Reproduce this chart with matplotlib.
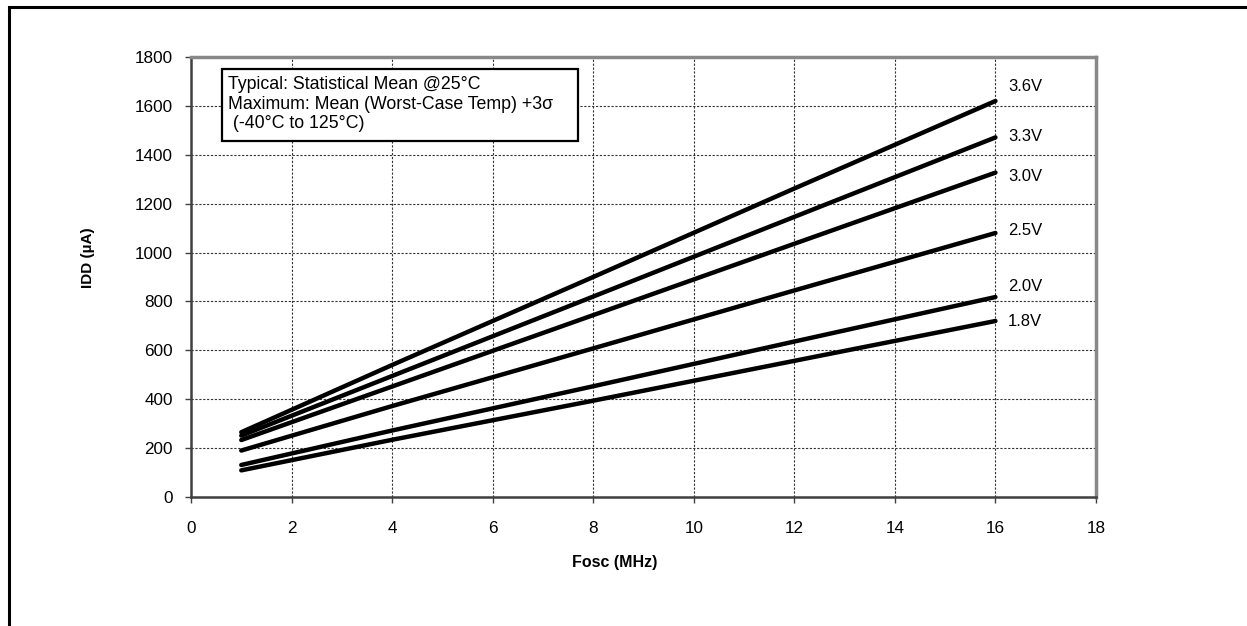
import matplotlib
matplotlib.use('Agg')
import matplotlib.pyplot as plt
from matplotlib.patches import Rectangle

plt.rcParams['font.family'] = ['Liberation Sans', 'DejaVu Sans']

# frequency (MHz) and current (uA) per supply voltage
fosc = [1, 4, 8, 12, 16]
idd_36 = [265, 540, 900, 1262, 1620]
idd_33 = [251, 495, 820, 1146, 1471]
idd_30 = [233, 452, 744, 1036, 1327]
idd_25 = [190, 372, 608, 845, 1080]
idd_20 = [131, 272, 453, 636, 818]
idd_18 = [109, 234, 394, 557, 720]
volts = ['3.6V', '3.3V', '3.0V', '2.5V', '2.0V', '1.8V']
label_y = [1679, 1474, 1313, 1092, 860, 717]

series = [idd_36, idd_33, idd_30, idd_25, idd_20, idd_18]

fig = plt.figure(figsize=(12.47, 6.26), dpi=100)
ax = fig.add_axes([191/1247, 1-497/626, 905/1247, 440/626])

for s in series:
    ax.plot(fosc, s, color='black', lw=3.2, solid_capstyle='round')

for v, ly in zip(volts, label_y):
    ax.text(16.25, ly, v, fontsize=12, va='center', ha='left')

ax.set_xlim(0, 18)
ax.set_ylim(0, 1800)
ax.set_xticks(range(0, 19, 2))
ax.set_yticks(range(0, 1801, 200))
ax.tick_params(labelsize=12.3, direction='out', length=4, width=1, color='#404040')
ax.tick_params(axis='x', pad=13)
ax.tick_params(axis='y', pad=9)

ax.grid(True, color='#333333', linestyle=(0, (2, 1.5)), lw=0.8)

ax.spines['left'].set_color('#404040')
ax.spines['bottom'].set_color('#404040')
ax.spines['left'].set_linewidth(1.8)
ax.spines['bottom'].set_linewidth(1.8)
ax.spines['top'].set_color('#888888')
ax.spines['right'].set_color('#888888')
ax.spines['top'].set_linewidth(2.5)
ax.spines['right'].set_linewidth(2.5)

ax.set_xlabel('Fosc (MHz)', fontsize=11.5, fontweight='bold')
ax.set_ylabel('IDD (µA)', fontsize=11, fontweight='bold')
ax.xaxis.set_label_coords(0.468, -0.132)
ax.yaxis.set_label_coords(-0.106, 0.543)

# note box
ax.add_patch(Rectangle((0.034, 0.809), 0.3936, 0.164, transform=ax.transAxes,
                       fc='white', ec='black', lw=1.6, zorder=5))
ax.text(0.041, 0.957,
        'Typical: Statistical Mean @25°C\nMaximum: Mean (Worst-Case Temp) +3σ\n (-40°C to 125°C)',
        transform=ax.transAxes, fontsize=12.8, va='top', ha='left', linespacing=1.2,
        zorder=6)

fig.patches.append(Rectangle((9/1247, -0.1), 1.2, 1.1 - 7/626, transform=fig.transFigure,
                             fill=False, ec='black', lw=2.2))

fig.savefig('out.png', dpi=100)
